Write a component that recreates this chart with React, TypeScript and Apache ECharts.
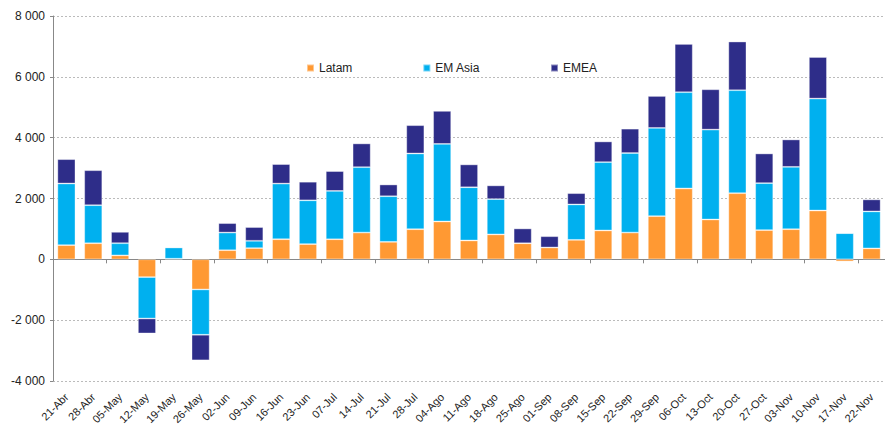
import React, { useEffect, useRef } from "react";
import * as echarts from "echarts";

const categories = [
  "21-Abr", "28-Abr", "05-May", "12-May", "19-May", "26-May", "02-Jun", "09-Jun",
  "16-Jun", "23-Jun", "07-Jul", "14-Jul", "21-Jul", "28-Jul", "04-Ago", "11-Ago",
  "18-Ago", "25-Ago", "01-Sep", "08-Sep", "15-Sep", "22-Sep", "29-Sep", "06-Oct",
  "13-Oct", "20-Oct", "27-Oct", "03-Nov", "10-Nov", "17-Nov", "22-Nov",
];

const latam = [
  466, 530, 130, -585, 20, -990, 300, 370,
  660, 500, 660, 880, 575, 990, 1245, 620,
  820, 530, 390, 640, 950, 880, 1420, 2330,
  1310, 2175, 960, 990, 1605, -70, 360,
];

const emAsia = [
  2027, 1250, 400, -1360, 370, -1490, 580, 240,
  1830, 1440, 1590, 2150, 1500, 2490, 2550, 1750,
  1160, 0, 0, 1165, 2245, 2615, 2900, 3165,
  2955, 3385, 1545, 2050, 3680, 860, 1215,
];

const emea = [
  800, 1150, 370, -490, 10, -840, 310, 450,
  640, 610, 650, 780, 385, 930, 1085, 750,
  450, 485, 370, 370, 680, 800, 1050, 1585,
  1325, 1600, 975, 900, 1365, 10, 395,
];

const seriesNames = ["Latam", "EM Asia", "EMEA"];
const seriesColors = ["#FF9933", "#00B0EF", "#2E2D89"];

const FONT = "Arial, 'Liberation Sans', sans-serif";

export default function App() {
  const ref = useRef<HTMLDivElement>(null);

  useEffect(() => {
    document.body.style.margin = "0";
    if (!ref.current) return;
    const chart = echarts.init(ref.current, null, { renderer: "svg" });
    const dataSets = [latam, emAsia, emea];
    chart.setOption({
      animation: false,
      backgroundColor: "#ffffff",
      textStyle: { fontFamily: FONT },
      legend: {
        left: 301,
        top: 57,
        itemWidth: 7,
        itemHeight: 7,
        itemGap: 70,
        icon: "rect",
        data: seriesNames,
        textStyle: { fontSize: 12, color: "#222", fontFamily: FONT },
      },
      grid: { left: 53, top: 16, width: 840, height: 365, containLabel: false },
      xAxis: [
        {
          type: "category",
          data: categories,
          position: "bottom",
          axisLine: { show: false, onZero: false },
          axisTick: { show: false },
          axisLabel: {
            rotate: 45,
            margin: 14,
            fontSize: 11,
            color: "#222",
            fontFamily: FONT,
            interval: 0,
          },
        },
        {
          type: "category",
          data: categories,
          position: "bottom",
          axisLine: { show: true, onZero: true, lineStyle: { color: "#888", width: 1 } },
          axisTick: { show: true, length: 4, inside: false, lineStyle: { color: "#888" } },
          axisLabel: { show: false },
        },
      ],
      yAxis: {
        type: "value",
        min: -4000,
        max: 8000,
        interval: 2000,
        axisLine: { show: true, lineStyle: { color: "#888" } },
        axisTick: { show: true, length: 3, lineStyle: { color: "#888" } },
        splitLine: { show: true, lineStyle: { color: "#bbb", type: [2, 2], width: 1 } },
        axisLabel: {
          fontSize: 12,
          color: "#222",
          margin: 8,
          fontFamily: FONT,
          formatter: (v: number) => String(v).replace(/\B(?=(\d{3})+(?!\d))/g, " "),
        },
      },
      series: seriesNames.map((name, i) => ({
        name,
        type: "bar",
        stack: "total",
        xAxisIndex: 0,
        barWidth: 18,
        data: dataSets[i],
        itemStyle: {
          color: seriesColors[i],
          borderColor: "rgba(255,255,255,0.45)",
          borderWidth: 0.8,
        },
      })),
    });
    return () => chart.dispose();
  }, []);

  return <div ref={ref} style={{ width: 885, height: 427 }} />;
}
